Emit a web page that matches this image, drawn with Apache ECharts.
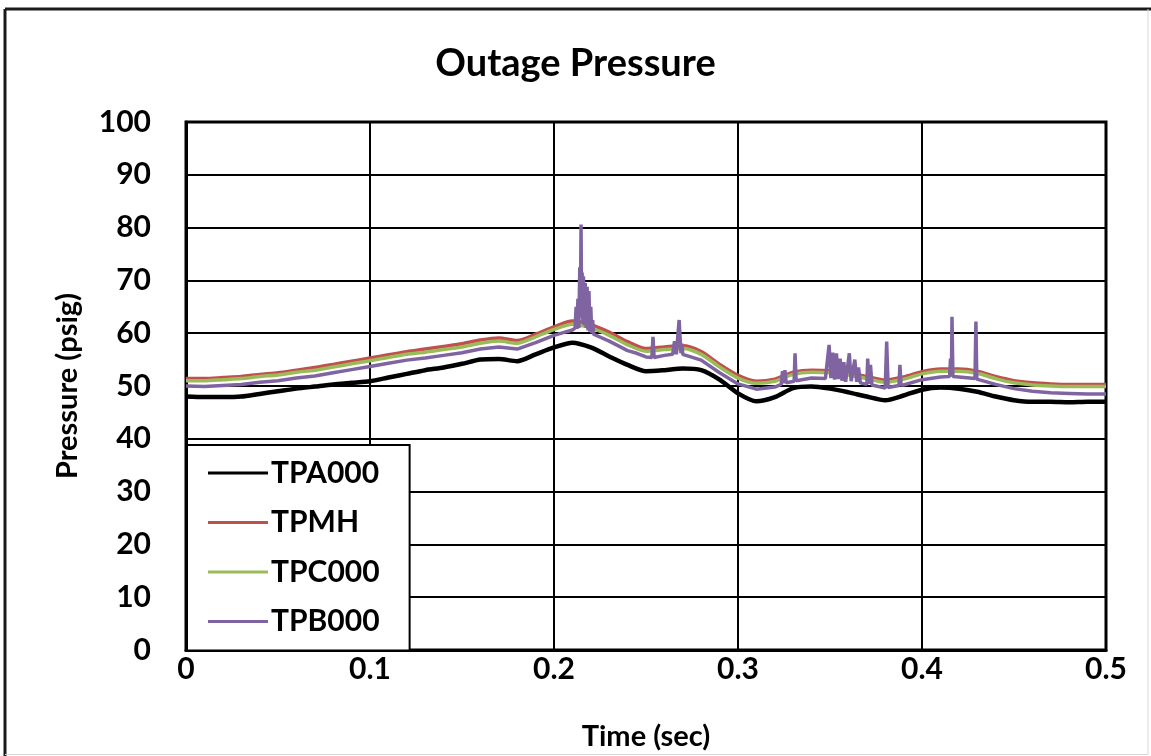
<!DOCTYPE html>
<html>
<head>
<meta charset="utf-8">
<title>Outage Pressure</title>
<script src="https://cdn.jsdelivr.net/npm/echarts@6/dist/echarts.min.js"></script>
<style>
  html, body { margin: 0; padding: 0; background: #fff; }
  #chart { width: 1151px; height: 756px; }
</style>
</head>
<body>
<div id="chart"></div>
<script>
// Sample times (sec) shared by the three smooth gauges
const baseTime = [
  0.00, 0.01, 0.02, 0.03, 0.04, 0.05, 0.06, 0.07, 0.08, 0.09,
  0.10, 0.11, 0.12, 0.13, 0.14, 0.15, 0.16, 0.17, 0.18, 0.19,
  0.20, 0.21, 0.22, 0.23, 0.24, 0.25, 0.26, 0.27, 0.28, 0.29,
  0.30, 0.31, 0.32, 0.33, 0.34, 0.35, 0.36, 0.37, 0.38, 0.39,
  0.40, 0.41, 0.42, 0.43, 0.44, 0.45, 0.46, 0.47, 0.48, 0.49, 0.50
];

// Pressure (psig)
const tpa000 = [
  48.0, 47.9, 47.9, 48.0, 48.5, 49.0, 49.5, 49.9, 50.3, 50.6,
  50.9, 51.6, 52.3, 53.0, 53.5, 54.2, 55.0, 55.1, 54.7, 56.0,
  57.3, 58.2, 57.3, 55.6, 54.0, 52.8, 53.0, 53.3, 53.0, 51.2,
  48.6, 47.1, 47.9, 49.6, 49.9, 49.5, 48.8, 48.0, 47.3, 48.2,
  49.3, 49.7, 49.5, 48.9, 48.0, 47.3, 47.0, 47.0, 46.9, 47.0, 47.0
];

const tpmh = [
  51.4, 51.4, 51.6, 51.8, 52.2, 52.5, 53.0, 53.5, 54.1, 54.7,
  55.3, 55.9, 56.5, 57.0, 57.5, 58.0, 58.7, 59.1, 58.6, 59.8,
  61.2, 62.3, 61.6, 60.2, 58.4, 57.1, 57.4, 57.6, 56.5, 54.1,
  52.0, 50.9, 51.3, 52.6, 53.0, 52.9, 52.5, 51.8, 51.1, 51.7,
  52.7, 53.2, 53.2, 52.8, 51.8, 51.0, 50.6, 50.4, 50.3, 50.3, 50.3
];

const tpc000 = [
  51.0, 51.0, 51.2, 51.4, 51.8, 52.1, 52.6, 53.0, 53.6, 54.2,
  54.8, 55.4, 56.0, 56.4, 56.9, 57.4, 58.1, 58.5, 58.1, 59.3,
  60.7, 61.7, 61.0, 59.6, 57.8, 56.6, 56.9, 57.1, 56.0, 53.6,
  51.5, 50.5, 50.9, 52.2, 52.6, 52.5, 52.1, 51.4, 50.7, 51.3,
  52.3, 52.8, 52.8, 52.4, 51.4, 50.6, 50.2, 50.0, 49.9, 49.9, 49.9
];

// TPB000 is sampled more finely so its pressure spikes are kept
const tpb000Time = [
  0.00, 0.01, 0.02, 0.03, 0.04, 0.05, 0.06, 0.07, 0.08, 0.09,
  0.10, 0.11, 0.12, 0.13, 0.14, 0.15, 0.16, 0.17, 0.18, 0.19,
  0.20, 0.205, 0.210, 0.2115, 0.2120, 0.2125, 0.2130, 0.2135, 0.2140, 0.2143,
  0.2147, 0.2150, 0.2153, 0.2157, 0.2160, 0.2165, 0.2170, 0.2175, 0.2180, 0.2185,
  0.2190, 0.2195, 0.2200, 0.2205, 0.2210, 0.2215, 0.2220, 0.23, 0.24, 0.245,
  0.25, 0.2532, 0.2538, 0.2544, 0.26, 0.2645, 0.2655, 0.2665, 0.2680, 0.2690,
  0.2695, 0.2700, 0.28, 0.29, 0.30, 0.31, 0.32, 0.3235, 0.3242, 0.3250,
  0.3255, 0.3262, 0.3305, 0.3310, 0.3316, 0.34, 0.3475, 0.3495, 0.3505, 0.3515,
  0.3525, 0.3535, 0.3545, 0.3555, 0.3565, 0.3575, 0.3585, 0.3605, 0.3615, 0.3635,
  0.3645, 0.3655, 0.3665, 0.3700, 0.3705, 0.3712, 0.3720, 0.3728, 0.38, 0.3808,
  0.3816, 0.3875, 0.3880, 0.3886, 0.39, 0.40, 0.41, 0.4150, 0.4155, 0.4160,
  0.4163, 0.4168, 0.42, 0.4288, 0.4293, 0.4298, 0.43, 0.44, 0.45, 0.46,
  0.47, 0.48, 0.49, 0.50
];

const tpb000 = [
  50.0, 49.9, 50.1, 50.3, 50.7, 51.0, 51.5, 51.9, 52.5, 53.1,
  53.7, 54.3, 54.9, 55.3, 55.8, 56.3, 57.0, 57.4, 57.0, 58.2,
  59.6, 60.1, 60.6, 61.0, 65.0, 60.8, 66.5, 61.0, 72.5, 63.0,
  80.6, 64.0, 71.5, 62.0, 70.8, 61.5, 69.5, 61.0, 68.8, 60.5,
  68.0, 60.3, 65.0, 60.0, 62.5, 59.8, 59.7, 58.5, 56.7, 56.2,
  55.5, 55.4, 59.3, 55.4, 55.8, 56.0, 58.5, 56.0, 62.5, 56.2,
  58.0, 56.0, 54.9, 52.5, 50.4, 49.4, 49.8, 50.3, 52.8, 50.5,
  53.0, 50.6, 50.9, 56.2, 51.0, 51.5, 51.4, 57.8, 51.5, 56.3,
  51.2, 56.2, 51.3, 55.2, 51.0, 54.5, 50.8, 56.2, 50.9, 55.0,
  50.8, 53.5, 50.6, 50.3, 55.2, 50.4, 54.0, 50.2, 49.6, 58.4,
  49.7, 50.1, 54.0, 50.2, 50.2, 51.2, 51.7, 51.8, 55.2, 51.8,
  63.1, 51.8, 51.7, 51.4, 62.2, 51.3, 51.3, 50.3, 49.5, 49.0,
  48.7, 48.6, 48.5, 48.5
];

const yTicks = ['0', '10', '20', '30', '40', '50', '60', '70', '80', '90', '100'];

const FONT = 'Lato';
const pairs = (xs, ys) => xs.map((x, i) => [x, ys[i]]);

const chart = echarts.init(document.getElementById('chart'), null, { renderer: 'canvas' });

const lineSeries = (name, color, xs, ys, width, smooth) => ({
  name,
  type: 'line',
  data: pairs(xs, ys),
  showSymbol: false,
  symbol: 'none',
  smooth,
  lineStyle: { color, width },
  itemStyle: { color },
  animation: false
});

chart.setOption({
  backgroundColor: '#ffffff',
  animation: false,
  title: {
    text: 'Outage Pressure',
    left: 'center',
    top: 40,
    textStyle: { fontFamily: FONT, fontWeight: 'bold', fontSize: 38, color: '#000' }
  },
  grid: {
    left: 186, right: 45, top: 122, bottom: 106,
    show: true, borderColor: '#000', borderWidth: 3, backgroundColor: '#fff'
  },
  legend: {
    orient: 'vertical',
    left: 187,
    top: 445,
    icon: 'rect',
    itemWidth: 60,
    itemHeight: 3,
    itemGap: 19.5,
    padding: [13, 30, 14, 21],
    backgroundColor: '#fff',
    borderColor: '#000',
    borderWidth: 2,
    textStyle: { fontFamily: FONT, fontWeight: 'bold', fontSize: 30, color: '#000', padding: [0, 0, 0, -2] },
    data: ['TPA000', 'TPMH', 'TPC000', 'TPB000']
  },
  xAxis: {
    type: 'value',
    min: 0, max: 0.5, interval: 0.1,
    name: 'Time (sec)',
    nameLocation: 'middle',
    nameGap: 72,
    nameTextStyle: { fontFamily: FONT, fontWeight: 'bold', fontSize: 29, color: '#000' },
    axisLine: { show: true, lineStyle: { color: '#000', width: 3 } },
    axisTick: { show: false },
    axisLabel: { fontFamily: FONT, fontWeight: 'bold', fontSize: 30, color: '#000', margin: 4,
      formatter: v => (Math.round(v * 10) / 10).toString() },
    splitLine: { show: true, lineStyle: { color: '#000', width: 2 } }
  },
  yAxis: {
    type: 'value',
    min: 0, max: 100, interval: 10,
    name: 'Pressure (psig)',
    nameLocation: 'middle',
    nameGap: 104,
    nameTextStyle: { fontFamily: FONT, fontWeight: 'bold', fontSize: 29, color: '#000' },
    axisLine: { show: true, lineStyle: { color: '#000', width: 3 } },
    axisTick: { show: false },
    axisLabel: { fontFamily: FONT, fontWeight: 'bold', fontSize: 30, color: '#000', margin: 35,
      formatter: v => yTicks[Math.round(v / 10)] },
    splitLine: { show: true, lineStyle: { color: '#000', width: 2 } }
  },
  series: [
    lineSeries('TPA000', '#000000', baseTime, tpa000, 4.5, 0.25),
    lineSeries('TPMH', '#c0504d', baseTime, tpmh, 3.5, 0.25),
    lineSeries('TPC000', '#9bbb59', baseTime, tpc000, 3.5, 0.25),
    lineSeries('TPB000', '#8064a2', tpb000Time, tpb000, 3.5, false)
  ],
  graphic: [
    // outer chart frame
    { type: 'line', shape: { x1: 5, y1: 9, x2: 1151, y2: 9 }, style: { stroke: '#1a1a1a', lineWidth: 3 }, z: 100 },
    { type: 'line', shape: { x1: 5, y1: 9, x2: 5, y2: 756 }, style: { stroke: '#1a1a1a', lineWidth: 3 }, z: 100 },
    { type: 'line', shape: { x1: 1148, y1: 9, x2: 1148, y2: 755 }, style: { stroke: '#d8d8d8', lineWidth: 1 }, z: 100 },
    { type: 'line', shape: { x1: 5, y1: 754.5, x2: 1148, y2: 754.5 }, style: { stroke: '#d8d8d8', lineWidth: 1 }, z: 100 }
  ]
});
</script>
</body>
</html>
